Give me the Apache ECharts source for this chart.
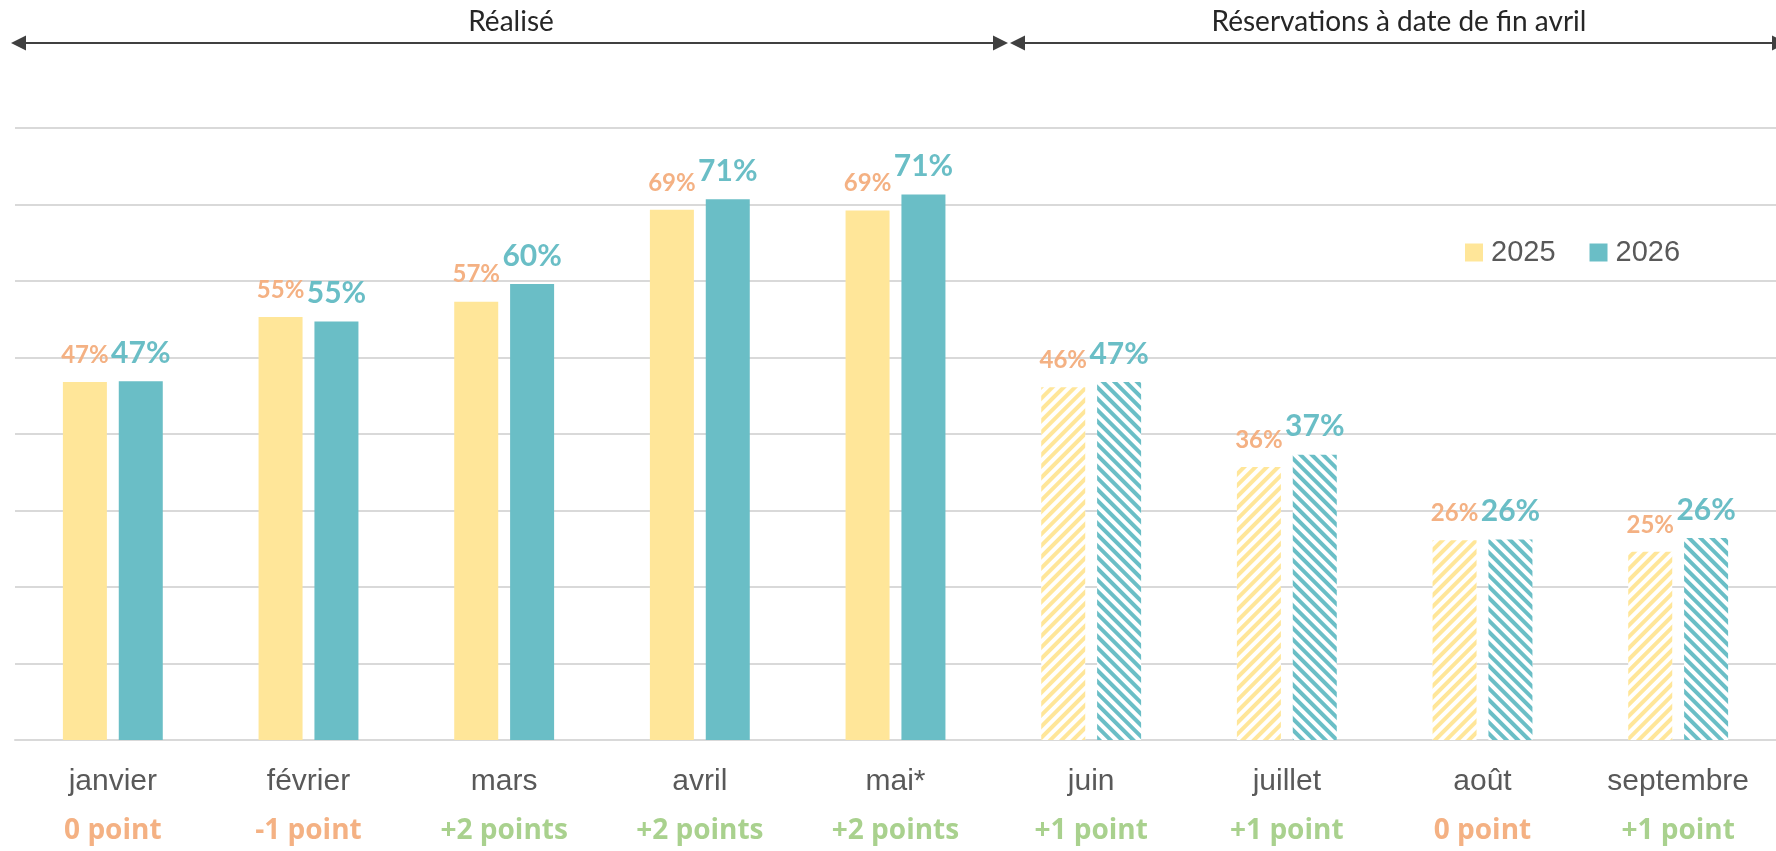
<!DOCTYPE html>
<html>
<head>
<meta charset="utf-8">
<script src="https://cdn.jsdelivr.net/npm/echarts@6/dist/echarts.min.js"></script>
<style>
  html, body { margin: 0; padding: 0; background: #fff; }
  #chart { width: 1776px; height: 851px; }
</style>
</head>
<body>
<div id="chart"></div>
<script>
// mois affichés
const months = ['janvier', 'février', 'mars', 'avril', 'mai*', 'juin', 'juillet', 'août', 'septembre']
// taux d'occupation (%)
const values2025 = [46.8, 55.3, 57.3, 69.3, 69.2, 46.1, 35.7, 26.1, 24.6]
const values2026 = [46.9, 54.7, 59.6, 70.7, 71.3, 46.8, 37.3, 26.2, 26.4]
// écart en points sous chaque mois
const pointLabels = ['0 point', '-1 point', '+2 points', '+2 points', '+2 points', '+1 point', '+1 point', '0 point', '+1 point']
// réservations (barres hachurées) à partir de juin
const isBooking = [false, false, false, false, false, true, true, true, true]

const yellow = '#FFE699'
const teal = '#6ABEC6'
const orange = '#F4B183'
const green = '#A9D18E'

function buildData(values, color, rotation) {
  return values.map((v, i) => {
    if (!isBooking[i]) return v
    return {
      value: v,
      itemStyle: {
        color: '#fff',
        decal: {
          symbol: 'rect',
          symbolSize: 1,
          color: color,
          dashArrayX: [1, 0],
          dashArrayY: [3.5, 3.5],
          rotation: rotation,
        },
      },
    }
  })
}

const chart = echarts.init(document.getElementById('chart'))
chart.setOption({
  animation: false,
  grid: { left: 15, right: 0, top: 128, bottom: 111 },
  legend: {
    left: 1460,
    top: 233,
    itemWidth: 18,
    itemHeight: 18,
    itemGap: 34,
    icon: 'rect',
    textStyle: { fontFamily: 'Liberation Sans', fontSize: 29, color: '#595959', padding: [0, 0, 0, 3] },
    data: ['2025', '2026'],
  },
  xAxis: {
    type: 'category',
    data: months,
    axisTick: { show: false },
    axisLine: { lineStyle: { color: '#d9d9d9', width: 2 } },
    axisLabel: {
      margin: 18,
      interval: 0,
      formatter: (v, i) => {
        const style = pointLabels[i].startsWith('+') ? 'g' : 'o'
        return '{m|' + v + '}\n{' + style + '|' + pointLabels[i] + '}'
      },
      rich: {
        m: { fontFamily: 'Liberation Sans', fontSize: 30, color: '#595959', lineHeight: 48 },
        o: { fontFamily: 'Open Sans', fontWeight: 'bold', fontSize: 28, color: orange, lineHeight: 50 },
        g: { fontFamily: 'Open Sans', fontWeight: 'bold', fontSize: 28, color: green, lineHeight: 50 },
      },
    },
  },
  yAxis: {
    type: 'value',
    min: 0,
    max: 80,
    interval: 10,
    axisLabel: { show: false },
    splitLine: { lineStyle: { color: '#d9d9d9', width: 2 } },
  },
  series: [
    {
      name: '2025',
      type: 'bar',
      barWidth: 44,
      barGap: '27%',
      itemStyle: { color: yellow },
      data: buildData(values2025, yellow, -Math.PI / 4),
      label: {
        show: true,
        position: 'top',
        distance: 15,
        formatter: p => Math.round(p.value) + '%',
        fontFamily: 'Lato',
        fontWeight: 'bold',
        fontSize: 24,
        color: orange,
      },
    },
    {
      name: '2026',
      type: 'bar',
      barWidth: 44,
      itemStyle: { color: teal },
      data: buildData(values2026, teal, Math.PI / 4),
      label: {
        show: true,
        position: 'top',
        distance: 13,
        formatter: p => Math.round(p.value) + '%',
        fontFamily: 'Lato',
        fontWeight: 'bold',
        fontSize: 30,
        color: teal,
      },
    },
  ],
  graphic: [
    { type: 'line', shape: { x1: 14, y1: 43, x2: 1000, y2: 43 }, style: { stroke: '#404040', lineWidth: 2 } },
    { type: 'polygon', shape: { points: [[11, 43], [26, 35.5], [26, 50.5]] }, style: { fill: '#404040' } },
    { type: 'polygon', shape: { points: [[1008, 43], [993, 35.5], [993, 50.5]] }, style: { fill: '#404040' } },
    { type: 'line', shape: { x1: 1018, y1: 43, x2: 1780, y2: 43 }, style: { stroke: '#404040', lineWidth: 2 } },
    { type: 'polygon', shape: { points: [[1010, 43], [1025, 35.5], [1025, 50.5]] }, style: { fill: '#404040' } },
    { type: 'polygon', shape: { points: [[1787, 43], [1772, 35.5], [1772, 50.5]] }, style: { fill: '#404040' } },
    {
      type: 'text', x: 511, y: 22,
      style: { text: 'Réalisé', fontFamily: 'Lato', fontSize: 28, fill: '#262626', align: 'center', verticalAlign: 'middle' },
    },
    {
      type: 'text', x: 1399, y: 22,
      style: { text: 'Réservations à date de fin avril', fontFamily: 'Lato', fontSize: 28, fill: '#262626', align: 'center', verticalAlign: 'middle' },
    },
  ],
})
</script>
</body>
</html>
